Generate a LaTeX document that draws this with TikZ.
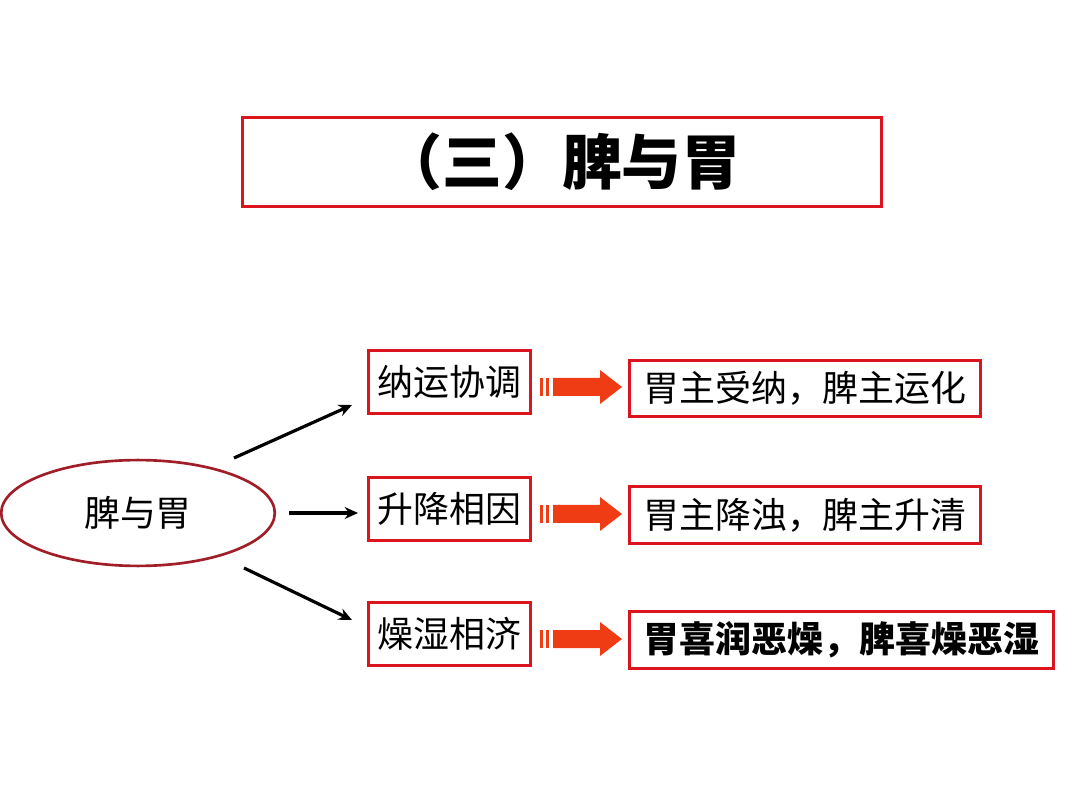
\documentclass[tikz,border=0pt]{standalone}
\usepackage{fontspec}
\newfontfamily\cjk{Noto Sans CJK SC}
\usetikzlibrary{arrows.meta,shapes.geometric}
\definecolor{rb}{RGB}{220,20,30}
\definecolor{er}{RGB}{160,30,40}
\definecolor{oa}{RGB}{240,60,20}
\tikzset{
 box/.style={draw=rb,line width=2.2pt,inner sep=0pt,fill=white},
 lbl/.style={font=\cjk\fontsize{27}{30}\selectfont},
 conn/.style={line width=2.4pt,-{Stealth[length=10pt,width=9pt]}},
}
\newcommand\fatarrow[2]{% x y (left, center)
 \fill[oa] (#1,#2-9) rectangle ++(3,18);
 \fill[oa] (#1+6,#2-9) rectangle ++(3,18);
 \fill[oa] (#1+13,#2-9) -- (#1+60,#2-9) -- (#1+60,#2-17) -- (#1+82,#2) -- (#1+60,#2+17) -- (#1+60,#2+9) -- (#1+13,#2+9) -- cycle;
}
\begin{document}
\begin{tikzpicture}[x=0.0264cm,y=-0.0264cm]
\useasboundingbox (0,0) rectangle (1080,810);
\node[box,minimum width=640*0.75pt,minimum height=90*0.75pt,font=\cjk\bfseries\fontsize{45}{50}\selectfont] (t) at (562,162) {（三）脾与胃};
\node[draw=er,line width=2pt,ellipse,minimum width=274*0.75pt,minimum height=106*0.75pt,lbl,inner sep=0pt] (e) at (138,513) {脾与胃};
\node[box,lbl,minimum width=163*0.75pt,minimum height=64*0.75pt] (m1) at (449.5,382) {纳运协调};
\node[box,lbl,minimum width=163*0.75pt,minimum height=64*0.75pt] (m2) at (449.5,509) {升降相因};
\node[box,lbl,minimum width=163*0.75pt,minimum height=64*0.75pt] (m3) at (449.5,634) {燥湿相济};
\node[box,lbl,minimum width=352*0.75pt,minimum height=57*0.75pt] (r1) at (805,388.5) {胃主受纳，脾主运化};
\node[box,lbl,minimum width=352*0.75pt,minimum height=58*0.75pt] (r2) at (805,515) {胃主降浊，脾主升清};
\node[box,lbl,font=\cjk\bfseries\fontsize{27}{30}\selectfont,minimum width=425*0.75pt,minimum height=58*0.75pt] (r3) at (841.5,640) {胃喜润恶燥，脾喜燥恶湿};
\coordinate (a1) at (234,458); \coordinate (b1) at (352,405);
\coordinate (a2) at (289,513); \coordinate (b2) at (358,513);
\coordinate (a3) at (244,568); \coordinate (b3) at (352,620);
\draw[conn] (a1) -- (b1);
\draw[conn] (a2) -- (b2);
\draw[conn] (a3) -- (b3);
\fatarrow{540}{387}
\fatarrow{540}{514}
\fatarrow{540}{639}
\end{tikzpicture}
\end{document}
